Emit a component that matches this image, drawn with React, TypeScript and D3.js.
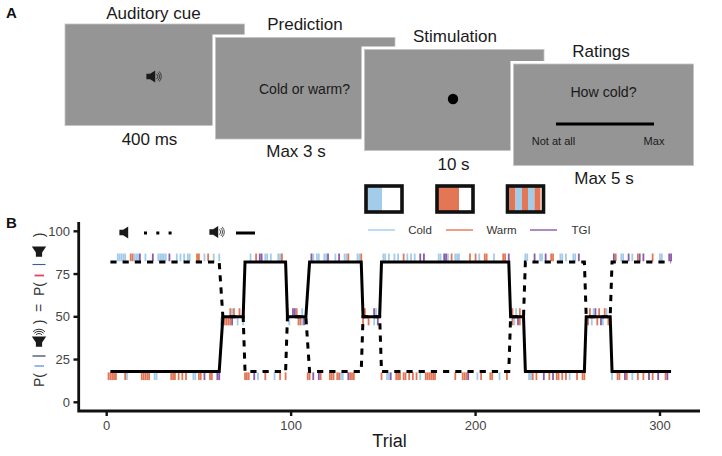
// App.tsx
import React from 'react';
import * as d3 from 'd3';

const xTicks = [0, 100, 200, 300];
const yTicks = [0, 25, 50, 75, 100];

// contingency of the solid cue, dashed cue is its mirror
const solidTrials = [2, 61, 63, 74, 75, 97, 98, 108, 110, 138, 139, 148, 149, 218, 219, 226, 227, 259, 260, 273, 274, 306];
const solidValues = [18, 18, 50, 50, 82, 82, 50, 50, 82, 82, 50, 50, 82, 82, 50, 50, 18, 18, 50, 50, 18, 18];
const dashedValues = [82, 82, 50, 50, 18, 18, 50, 50, 18, 18, 50, 50, 18, 18, 50, 50, 82, 82, 50, 50, 82, 82];

// trials on the top row of ticks (sits on the 82 level)
const highCold = [6, 7, 8, 9, 10, 15, 16, 17, 21, 28, 29, 30, 31, 32, 38, 40, 42, 44, 45, 53, 58, 61, 78, 86, 87, 89, 93, 94, 112, 114, 115, 118, 119, 124, 129, 130, 136, 137, 150, 151, 153, 156, 158, 163, 165, 167, 180, 181, 185, 189, 190, 191, 202, 210, 227, 228, 235, 236, 246, 247, 249, 253, 254, 279, 280, 285, 300, 301];
const highWarm = [13, 14, 49, 50, 55, 81, 95, 131, 138, 161, 187, 197, 200, 205, 206, 215, 216, 241, 242, 276, 288, 296];
const highTgi = [18, 25, 34, 83, 84, 111, 120, 126, 170, 172, 183, 184, 218, 232, 238, 256, 275, 283, 289, 291, 305, 306];

// ticks above and below the 50 level
const midUpCold = [68, 74, 106, 146, 222, 264, 271];
const midUpWarm = [67, 69, 72, 98, 103, 140, 148, 220, 224, 262, 267, 270];
const midUpTgi = [101, 102, 145, 265];
const midDownCold = [62, 71, 74, 99, 106, 145, 221, 263, 269];
const midDownWarm = [64, 65, 66, 67, 104, 105, 139, 142, 220, 224, 261, 266, 272];
const midDownTgi = [68, 107, 147, 223, 268];

// bottom row of ticks (under the 18 level)
const lowCold = [11, 26, 27, 47, 48, 82, 91, 127, 128, 152, 153, 170, 201, 213, 229, 230, 251, 274, 285];
const lowWarm = [1, 2, 3, 4, 5, 10, 19, 20, 21, 22, 23, 35, 36, 37, 39, 41, 43, 50, 51, 56, 57, 75, 76, 77, 86, 94, 97, 109, 110, 116, 121, 122, 123, 125, 126, 132, 133, 134, 149, 157, 158, 159, 161, 162, 164, 166, 168, 173, 174, 175, 176, 177, 178, 189, 193, 194, 195, 203, 208, 209, 217, 231, 233, 240, 244, 245, 247, 249, 255, 258, 259, 277, 278, 282, 288, 291, 294, 296, 303];
const lowTgi = [53, 60, 61, 80, 112, 115, 131, 154, 196, 237, 242, 281, 294, 299, 304];

const COLD = '#a3cbea';
const WARM = '#e37655';
const TGI = '#8a5aab';
const PANEL = '#959595';
const FONT = '"Liberation Sans", Arial, sans-serif';

const x = d3.scaleLinear().domain([0, 300]).range([106.7, 660]);
const y = d3.scaleLinear().domain([0, 100]).range([402.3, 231.3]);

const Speaker: React.FC<{ cx: number; cy: number; s?: number; waves?: boolean; rotate?: number; color?: string }> = ({
  cx, cy, s = 1, waves = false, rotate = 0, color = '#1a1a1a',
}) => (
  <g transform={`translate(${cx},${cy}) rotate(${rotate}) scale(${s})`}>
    <path d="M-6,-2.4 L-2.6,-2.4 L2,-5.5 L2,5.5 L-2.6,2.4 L-6,2.4 Z" fill={color} />
    {waves && (
      <g fill="none" stroke={color} strokeWidth={0.7}>
        <path d="M3.2,-2.4 A3.4,3.4 0 0 1 3.2,2.4" />
        <path d="M4.4,-3.6 A5,5 0 0 1 4.4,3.6" />
        <path d="M5.6,-4.6 A6.4,6.4 0 0 1 5.6,4.6" />
      </g>
    )}
  </g>
);

const Panel: React.FC<{ x0: number; y0: number; x1: number; y1: number }> = ({ x0, y0, x1, y1 }) => (
  <g>
    <rect x={x0 - 3} y={y0 - 3} width={x1 - x0 + 6} height={y1 - y0 + 6} fill="#fff" />
    <rect x={x0} y={y0} width={x1 - x0} height={y1 - y0} fill={PANEL} stroke="#c4c4c4" strokeWidth={0.8} />
  </g>
);

const Rug: React.FC<{ trials: number[]; color: string; top: number; bottom: number }> = ({ trials, color, top, bottom }) => (
  <g stroke={color} strokeWidth={1.8}>
    {trials.map(t => (
      <line key={t} x1={x(t)} x2={x(t)} y1={y(top)} y2={y(bottom)} />
    ))}
  </g>
);

const Label: React.FC<{ x: number; y: number; size: number; children: React.ReactNode; anchor?: string; fill?: string }> = ({
  x: lx, y: ly, size, children, anchor = 'middle', fill = '#1a1a1a',
}) => (
  <text x={lx} y={ly} fontSize={size} textAnchor={anchor as any} fill={fill} fontFamily={FONT}>
    {children}
  </text>
);

const StimBox: React.FC<{ x0: number; stripes: [number, number, string][] }> = ({ x0, stripes }) => (
  <g>
    <rect x={x0} y={186} width={36} height={26} fill="#fff" />
    {stripes.map(([a, b, c], i) => (
      <rect key={i} x={x0 + a} y={186} width={b - a} height={26} fill={c} />
    ))}
    <rect x={x0} y={186} width={36} height={26} fill="none" stroke="#111" strokeWidth={3.6} />
  </g>
);

export default function App() {
  const line = d3.line<number>().x((_, i) => x(solidTrials[i])).y(d => y(d));

  return (
    <svg width={722} height={456} style={{ position: 'absolute', left: 0, top: 0, background: '#fff' }}>
      {/* panel A */}
      <text x={6} y={18} fontSize={15} fontWeight="bold" fontFamily={FONT} fill="#111">A</text>

      <Panel x0={65} y0={24} x1={244.5} y1={125.5} />
      <Panel x0={215.5} y0={37.5} x1={395} y1={139} />
      <Panel x0={364.5} y0={49.5} x1={544} y1={150.5} />
      <Panel x0={513.5} y0={64} x1={693.5} y1={165.5} />

      <Label x={153.5} y={18.5} size={17}>Auditory cue</Label>
      <Label x={305} y={30} size={17}>Prediction</Label>
      <Label x={455} y={42} size={17}>Stimulation</Label>
      <Label x={601} y={57} size={17}>Ratings</Label>

      <Label x={149.5} y={144.5} size={17}>400 ms</Label>
      <Label x={296} y={157} size={17}>Max 3 s</Label>
      <Label x={453.5} y={170} size={17}>10 s</Label>
      <Label x={604} y={184} size={17}>Max 5 s</Label>

      <Speaker cx={153} cy={76.5} s={1.1} waves />
      <Label x={304.5} y={94} size={14}>Cold or warm?</Label>
      <circle cx={453} cy={99} r={5.2} fill="#000" />
      <Label x={603.5} y={96.5} size={14.2}>How cold?</Label>
      <line x1={556} x2={654} y1={124} y2={124} stroke="#000" strokeWidth={2.8} />
      <Label x={553.5} y={144.5} size={11}>Not at all</Label>
      <Label x={654} y={144.5} size={11}>Max</Label>

      <StimBox x0={366} stripes={[[0, 16, COLD]]} />
      <StimBox x0={437} stripes={[[0, 22, WARM]]} />
      <StimBox x0={507.5} stripes={[[2, 8, WARM], [8, 14.5, COLD], [14.5, 20.5, WARM], [20.5, 27, COLD], [27, 33, WARM]]} />

      {/* panel B */}
      <text x={6} y={228} fontSize={15} fontWeight="bold" fontFamily={FONT} fill="#111">B</text>

      {/* rotated y label */}
      <g>
        <g transform="translate(44,387) rotate(-90)"><Label x={0} y={0} size={14} anchor="start" fill="#333">P(</Label></g>
        <line x1={34.5} x2={44} y1={366} y2={366} stroke="#6fa5dc" strokeWidth={1.5} />
        <line x1={32.5} x2={45.5} y1={356} y2={356} stroke="#1f2a5c" strokeWidth={1.1} />
        <Speaker cx={39} cy={339} s={1.3} waves rotate={-90} />
        <g transform="translate(44,322) rotate(-90)"><Label x={0} y={0} size={14} fill="#333">)</Label></g>
        <g transform="translate(44,308) rotate(-90)"><Label x={0} y={0} size={14} fill="#333">=</Label></g>
        <g transform="translate(44,296) rotate(-90)"><Label x={0} y={0} size={14} anchor="start" fill="#333">P(</Label></g>
        <line x1={34.5} x2={44} y1={275.5} y2={275.5} stroke="#e8435c" strokeWidth={1.8} />
        <line x1={32.5} x2={45.5} y1={264.5} y2={264.5} stroke="#3a5c9c" strokeWidth={1.1} />
        <Speaker cx={39} cy={249} s={1.3} rotate={-90} />
        <g transform="translate(44,235) rotate(-90)"><Label x={0} y={0} size={14} fill="#333">)</Label></g>
      </g>

      {/* rugs */}
      <Rug trials={highCold} color={COLD} top={87} bottom={82.5} />
      <Rug trials={highWarm} color={WARM} top={87} bottom={82.5} />
      <Rug trials={highTgi} color={TGI} top={87} bottom={82.5} />
      <Rug trials={midUpCold} color={COLD} top={55} bottom={50} />
      <Rug trials={midUpWarm} color={WARM} top={55} bottom={50} />
      <Rug trials={midUpTgi} color={TGI} top={55} bottom={50} />
      <Rug trials={midDownCold} color={COLD} top={49.5} bottom={45} />
      <Rug trials={midDownWarm} color={WARM} top={49.5} bottom={45} />
      <Rug trials={midDownTgi} color={TGI} top={49.5} bottom={45} />
      <Rug trials={lowCold} color={COLD} top={17.5} bottom={13} />
      <Rug trials={lowWarm} color={WARM} top={17.5} bottom={13} />
      <Rug trials={lowTgi} color={TGI} top={17.5} bottom={13} />

      {/* probability lines */}
      <path d={line(dashedValues) ?? ''} fill="none" stroke="#000" strokeWidth={3} strokeDasharray="6.2 6" />
      <path d={line(solidValues) ?? ''} fill="none" stroke="#000" strokeWidth={3} />

      {/* axes */}
      <path d={`M78.7,222 V411 H700`} fill="none" stroke="#111" strokeWidth={2.8} />
      {yTicks.map(t => (
        <g key={t}>
          <line x1={73.5} x2={78} y1={y(t)} y2={y(t)} stroke="#111" strokeWidth={2.4} />
          <Label x={70} y={y(t) + 4.5} size={13} anchor="end" fill="#444">{t}</Label>
        </g>
      ))}
      {xTicks.map(t => (
        <g key={t}>
          <line x1={x(t)} x2={x(t)} y1={412} y2={416} stroke="#111" strokeWidth={2.4} />
          <Label x={x(t)} y={429.5} size={13} fill="#444">{t}</Label>
        </g>
      ))}
      <Label x={389.5} y={447} size={18}>Trial</Label>

      {/* cue key */}
      <Speaker cx={126} cy={232.5} s={1.1} />
      <line x1={144} x2={172} y1={233} y2={233} stroke="#000" strokeWidth={3} strokeDasharray="3 9.3" />
      <Speaker cx={216} cy={232} s={1.1} waves />
      <line x1={236} x2={255} y1={233} y2={233} stroke="#000" strokeWidth={3} />

      {/* stimulus legend */}
      <line x1={368} x2={395} y1={230} y2={230} stroke={COLD} strokeWidth={1.4} />
      <Label x={420} y={234} size={11.5} fill="#333">Cold</Label>
      <line x1={446} x2={473} y1={230} y2={230} stroke={WARM} strokeWidth={1.4} />
      <Label x={501.5} y={234} size={11.5} fill="#333">Warm</Label>
      <line x1={530} x2={557} y1={230} y2={230} stroke={TGI} strokeWidth={1.4} />
      <Label x={581} y={234} size={11.5} fill="#333">TGI</Label>
    </svg>
  );
}
